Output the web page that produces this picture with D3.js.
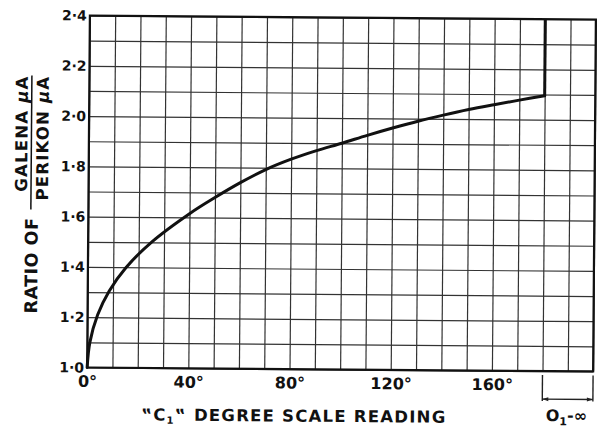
<!DOCTYPE html>
<html><head><meta charset="utf-8">
<script src="https://cdn.jsdelivr.net/npm/d3@7"></script>
<style>
html,body{margin:0;padding:0;background:#fff;}
text{font-family:"DejaVu Sans",Arial,sans-serif;font-weight:bold;fill:#111;}
</style></head>
<body><svg id="c" width="603" height="428"></svg>
<script>
// ---- data ----
const degrees = [0, 1, 4, 8.5, 15, 25, 40, 50, 60, 70, 80, 90, 100, 110, 120, 130, 140, 150, 160, 170, 180];
const ratio   = [1.0, 1.1, 1.21, 1.305, 1.398, 1.5, 1.615, 1.68, 1.74, 1.793, 1.835, 1.87, 1.90, 1.932, 1.962, 1.99, 2.015, 2.038, 2.058, 2.077, 2.095];
const yTickValues = [1.0, 1.2, 1.4, 1.6, 1.8, 2.0, 2.2, 2.4];
const yTickLabels = ["1·0", "1·2", "1·4", "1·6", "1·8", "2·0", "2·2", "2·4"];
const xTickValues = [0, 40, 80, 120, 160];
const xTickLabels = ["0°", "40°", "80°", "120°", "160°"];
const xGridValues = d3.range(0, 201, 10);
const yGridValues = d3.range(0, 15).map(i => +(1.0 + i * 0.1).toFixed(1));
const xDomain = [0, 200];
const yDomain = [1.0, 2.4];
const infinityStart = 180;

const FONT = '"DejaVu Sans",Arial,sans-serif';
const svg = d3.select("#c");
const L = 88.5, R = 594.5, T = 17.5, B = 369.5;
const x = d3.scaleLinear().domain(xDomain).range([L, R]);
const y = d3.scaleLinear().domain(yDomain).range([B, T]);

const g = svg.append("g").attr("transform", "rotate(0.45,341.5,193.5)");

// grid via axes
g.append("g").attr("transform", `translate(0,${B})`)
  .call(d3.axisBottom(x).tickValues(xGridValues).tickSize(-(B - T)).tickFormat(""))
  .call(a => a.select(".domain").remove())
  .selectAll("line").attr("stroke", "#333").attr("stroke-width", 1.2);
g.append("g").attr("transform", `translate(${L},0)`)
  .call(d3.axisLeft(y).tickValues(yGridValues).tickSize(-(R - L)).tickFormat(""))
  .call(a => a.select(".domain").remove())
  .selectAll("line").attr("stroke", "#333").attr("stroke-width", 1.2);

// frame
g.append("rect").attr("x", L).attr("y", T).attr("width", R - L).attr("height", B - T)
  .attr("fill", "none").attr("stroke", "#111").attr("stroke-width", 2.2);

// y tick labels
g.append("g").attr("transform", `translate(${L - 2},0)`)
  .call(d3.axisLeft(y).tickValues(yTickValues).tickSize(0).tickPadding(1)
    .tickFormat((d, i) => yTickLabels[i]))
  .call(a => a.select(".domain").remove())
  .selectAll("text").attr("font-size", 14).attr("fill", "#111")
  .style("font-family", FONT).style("font-weight", "bold");

// x tick labels
g.append("g").attr("transform", `translate(0,${B})`)
  .call(d3.axisBottom(x).tickValues(xTickValues).tickSize(0).tickPadding(8)
    .tickFormat((d, i) => xTickLabels[i]))
  .call(a => a.select(".domain").remove())
  .selectAll("text").attr("font-size", 16).attr("fill", "#111")
  .style("font-family", FONT).style("font-weight", "bold");

// curve
const pts = degrees.map((d, i) => [d, ratio[i]]);
const line = d3.line().x(d => x(d[0])).y(d => y(d[1])).curve(d3.curveCatmullRom.alpha(0.5));
g.append("path").attr("d", line(pts)).attr("fill", "none")
  .attr("stroke", "#111").attr("stroke-width", 3).attr("stroke-linecap", "round");

// vertical heavy line at 180 from curve end up to top
g.append("line").attr("x1", x(infinityStart)).attr("x2", x(infinityStart))
  .attr("y1", y(ratio[ratio.length - 1])).attr("y2", y(yDomain[1]))
  .attr("stroke", "#111").attr("stroke-width", 3);

// bracket under the infinity region
const by = B + 28;
[infinityStart, xDomain[1]].forEach(v => {
  g.append("line").attr("x1", x(v)).attr("x2", x(v)).attr("y1", B + 4).attr("y2", by + 2)
    .attr("stroke", "#222").attr("stroke-width", 1.4);
});
g.append("line").attr("x1", x(infinityStart)).attr("x2", x(xDomain[1])).attr("y1", by).attr("y2", by)
  .attr("stroke", "#222").attr("stroke-width", 1.4);
[[x(infinityStart), 1], [x(xDomain[1]), -1]].forEach(([px, s]) => {
  g.append("path").attr("d", `M${px},${by} l${6 * s},-2 l0,4 Z`).attr("fill", "#222");
});
const inf = g.append("text").attr("x", (x(infinityStart) + x(xDomain[1])) / 2 - 1).attr("y", by + 22)
  .attr("text-anchor", "middle").attr("font-size", 16);
inf.append("tspan").text("O");
inf.append("tspan").attr("font-size", 11).attr("dy", 4).text("1");
inf.append("tspan").attr("dy", -4).text("-∞");

// x title
const xt = g.append("text").attr("x", 143).attr("y", 422).attr("font-size", 16.5)
  .attr("textLength", 304).attr("lengthAdjust", "spacing");
xt.append("tspan").text("‟C");
xt.append("tspan").attr("font-size", 10).attr("dy", 3).text("1");
xt.append("tspan").attr("dy", -3).text("‟ DEGREE SCALE READING");

// y title
const yt = g.append("g");
yt.append("text").attr("transform", "translate(38,268) rotate(-90)").attr("text-anchor", "middle")
  .attr("font-size", 17.5).attr("letter-spacing", 0.5).text("RATIO OF");
const t1 = yt.append("text").attr("transform", "translate(27,78) rotate(-90)").attr("text-anchor", "end")
  .attr("font-size", 16.5).attr("letter-spacing", 1.2);
t1.append("tspan").text("GALENA ");
t1.append("tspan").attr("font-style", "italic").text("μ");
t1.append("tspan").text("A");
const t2 = yt.append("text").attr("transform", "translate(48,78) rotate(-90)").attr("text-anchor", "end")
  .attr("font-size", 16.5).attr("letter-spacing", 1.2);
t2.append("tspan").text("PERIKON ");
t2.append("tspan").attr("font-style", "italic").text("μ");
t2.append("tspan").text("A");
yt.append("line").attr("x1", 31).attr("x2", 31).attr("y1", 78).attr("y2", 212)
  .attr("stroke", "#111").attr("stroke-width", 1.5);
</script></body></html>
